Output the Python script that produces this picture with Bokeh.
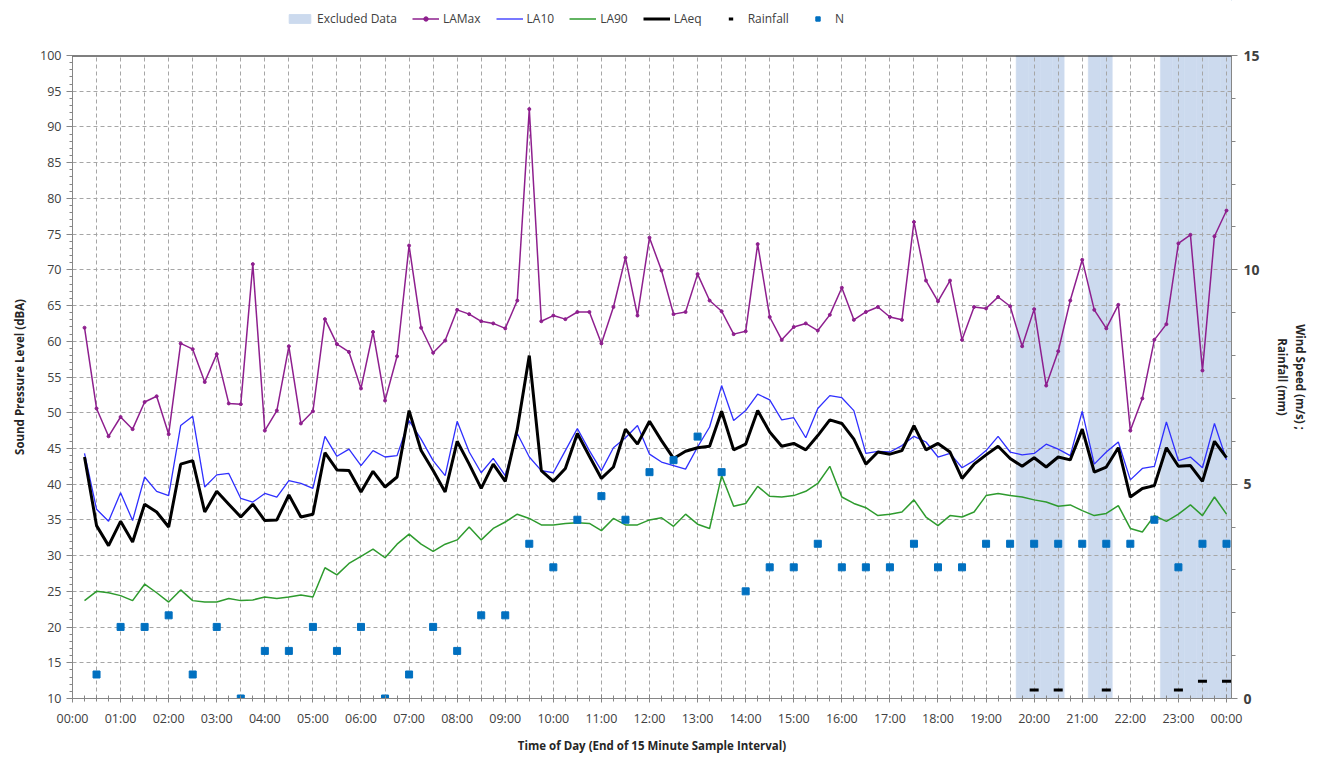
from bokeh.plotting import figure
from bokeh.layouts import column
from bokeh.models import Range1d, LinearAxis, FixedTicker, Legend, LegendItem, Span
from bokeh.embed import file_html
from bokeh.resources import INLINE

# ---------------- data ----------------
lamax = [61.9, 50.6, 46.7, 49.4, 47.7, 51.5, 52.3, 47.0, 59.7, 58.9, 54.3, 58.2,
         51.3, 51.2, 70.8, 47.5, 50.3, 59.3, 48.5, 50.2, 63.1, 59.6, 58.5, 53.4,
         61.3, 51.7, 57.9, 73.4, 61.9, 58.4, 60.1, 64.4, 63.8, 62.8, 62.5, 61.8,
         65.7, 92.5, 62.8, 63.6, 63.1, 64.1, 64.1, 59.7, 64.8, 71.7, 63.6, 74.5,
         69.9, 63.8, 64.1, 69.4, 65.7, 64.2, 61.0, 61.4, 73.6, 63.4, 60.2, 62.0,
         62.5, 61.5, 63.7, 67.5, 63.0, 64.1, 64.8, 63.4, 63.0, 76.7, 68.5, 65.6,
         68.5, 60.2, 64.8, 64.6, 66.2, 64.9, 59.3, 64.5, 53.8, 58.6, 65.7, 71.4,
         64.4, 61.8, 65.1, 47.5, 52.0, 60.2, 62.4, 73.7, 74.9, 55.9, 74.7, 78.3]
la10 = [44.3, 36.5, 34.8, 38.8, 34.9, 41.0, 39.0, 38.4, 48.2, 49.5, 39.6, 41.3,
        41.5, 38.0, 37.5, 38.7, 38.2, 40.5, 40.1, 39.4, 46.7, 43.9, 44.9, 42.6,
        44.7, 43.8, 44.0, 48.9, 46.3, 43.3, 41.2, 48.8, 44.5, 41.6, 43.6, 41.2,
        47.1, 43.8, 41.9, 41.6, 44.7, 47.8, 44.7, 41.9, 45.1, 46.5, 48.2, 44.2,
        43.1, 42.6, 42.1, 45.2, 48.0, 53.8, 48.9, 50.3, 52.6, 51.8, 49.0, 49.3,
        46.5, 50.6, 52.4, 52.1, 50.3, 44.3, 44.6, 44.5, 45.4, 46.7, 45.9, 43.8,
        44.3, 42.3, 43.3, 44.7, 46.7, 44.5, 44.1, 44.3, 45.6, 44.9, 44.0, 50.2,
        42.8, 44.5, 45.9, 40.6, 42.2, 42.5, 48.7, 43.3, 43.8, 42.3, 48.5, 43.4]
la90 = [23.7, 25.0, 24.8, 24.4, 23.7, 26.0, 24.8, 23.5, 25.2, 23.7, 23.5, 23.5,
        24.0, 23.7, 23.8, 24.2, 24.0, 24.2, 24.5, 24.2, 28.3, 27.3, 28.9, 29.9,
        30.9, 29.7, 31.6, 33.0, 31.6, 30.6, 31.6, 32.2, 34.0, 32.2, 33.8, 34.7,
        35.8, 35.2, 34.3, 34.3, 34.5, 34.6, 34.5, 33.5, 35.2, 34.3, 34.3, 35.0,
        35.3, 34.1, 35.8, 34.4, 33.8, 41.2, 36.9, 37.3, 39.7, 38.3, 38.2, 38.4,
        39.0, 40.1, 42.5, 38.2, 37.3, 36.7, 35.6, 35.8, 36.1, 37.8, 35.4, 34.2,
        35.6, 35.4, 36.1, 38.4, 38.7, 38.4, 38.2, 37.8, 37.5, 36.9, 37.1, 36.3,
        35.6, 35.9, 37.0, 33.8, 33.3, 35.6, 34.8, 35.8, 37.1, 35.6, 38.2, 35.8]
laeq = [43.8, 34.2, 31.4, 34.8, 31.9, 37.2, 36.1, 34.0, 42.8, 43.3, 36.1, 39.0,
        37.2, 35.4, 37.2, 34.9, 35.0, 38.5, 35.4, 35.8, 44.4, 42.0, 41.9, 38.9,
        41.8, 39.6, 41.0, 50.3, 44.7, 41.9, 38.9, 46.0, 42.8, 39.4, 42.8, 40.4,
        47.7, 58.0, 41.9, 40.4, 42.2, 47.1, 43.9, 40.8, 42.4, 47.7, 45.6, 48.8,
        46.1, 43.6, 44.6, 45.1, 45.3, 50.2, 44.8, 45.6, 50.3, 47.3, 45.3, 45.7,
        44.8, 46.8, 49.0, 48.5, 46.3, 42.8, 44.5, 44.2, 44.7, 48.2, 44.8, 45.7,
        44.5, 40.8, 42.8, 44.1, 45.3, 43.6, 42.5, 43.7, 42.4, 43.8, 43.4, 47.7,
        41.7, 42.4, 45.1, 38.2, 39.4, 39.8, 45.1, 42.5, 42.6, 40.4, 46.0, 43.7]
wind_n = [0.56, 1.67, 1.67, 1.94, 0.56, 1.67, 0.0, 1.11, 1.11, 1.67, 1.11, 1.67,
          0.0, 0.56, 1.67, 1.11, 1.94, 1.94, 3.61, 3.06, 4.17, 4.72, 4.17, 5.28,
          5.56, 6.11, 5.28, 2.50, 3.06, 3.06, 3.61, 3.06, 3.06, 3.06, 3.61, 3.06,
          3.06, 3.61, 3.61, 3.61, 3.61, 3.61, 3.61, 3.61, 4.17, 3.06, 3.61, 3.61]
rain_times = [20.0, 20.5, 21.5, 23.0, 23.5, 24.0]
rain_mm = [0.2, 0.2, 0.2, 0.2, 0.4, 0.4]
excluded_times = [19.75, 20.0, 20.25, 20.5, 21.25, 21.5,
                  22.75, 23.0, 23.25, 23.5, 23.75, 24.0]
hour_labels = ["00:00", "01:00", "02:00", "03:00", "04:00", "05:00", "06:00",
               "07:00", "08:00", "09:00", "10:00", "11:00", "12:00", "13:00",
               "14:00", "15:00", "16:00", "17:00", "18:00", "19:00", "20:00",
               "21:00", "22:00", "23:00", "00:00"]

times = [0.25 * (i + 1) for i in range(len(lamax))]        # end of 15 min interval (h)
wind_times = [0.5 * (i + 1) for i in range(len(wind_n))]   # half-hourly wind samples

FONT = "Open Sans"
TXT = "#404040"
C_EXCL = "#CCDAEE"
C_MAX = "#8E1F8E"
C_10 = "#2F2FFF"
C_90 = "#2E9B2E"
C_N = "#0070C0"

LEG_H = 36

p = figure(width=1321, height=758 - LEG_H, output_backend="svg", toolbar_location=None,
           x_range=Range1d(0, 24.104), y_range=Range1d(10, 100))
p.min_border_left = 72
p.min_border_right = 90
p.min_border_top = 55 - LEG_H
p.min_border_bottom = 60
p.outline_line_color = None
p.background_fill_color = "white"

p.extra_y_ranges = {"wind": Range1d(0, 15)}

# excluded data bars
p.vbar(x=excluded_times, width=0.25, bottom=10, top=100,
       fill_color=C_EXCL, line_color=C_EXCL, line_width=0.5, level="image")

# lines
p.line(times, lamax, line_color=C_MAX, line_width=1.5)
p.scatter(times, lamax, size=3, marker="circle", fill_color=C_MAX, line_color=C_MAX)
p.line(times, la10, line_color=C_10, line_width=1.3)
p.line(times, la90, line_color=C_90, line_width=1.5)
p.line(times, laeq, line_color="black", line_width=3)

p.scatter(rain_times, rain_mm, y_range_name="wind", marker="dash", size=9,
          line_color="black", line_width=3)
p.scatter(wind_times, wind_n, y_range_name="wind", marker="square", size=7,
          fill_color=C_N, line_color=C_N)

# top border line
p.add_layout(Span(location=100, dimension="width", line_color="black", line_width=2))

# grids
p.xgrid.ticker = FixedTicker(ticks=[0.5 * k for k in range(1, 49)])
p.ygrid.ticker = FixedTicker(ticks=list(range(15, 100, 5)))
for g in (p.xgrid, p.ygrid):
    g.grid_line_color = "#A6A6A6"
    g.grid_line_dash = "4 3"
    g.grid_line_width = 1

# x axis
xa = p.xaxis[0]
xa.ticker = FixedTicker(ticks=list(range(25)), minor_ticks=[0.25 * k for k in range(97)])
xa.major_label_overrides = {i: hour_labels[i] for i in range(25)}
xa.axis_label = "Time of Day (End of 15 Minute Sample Interval)"
xa.axis_line_color = "#868686"
xa.major_tick_line_color = "#868686"
xa.minor_tick_line_color = "#868686"
xa.major_tick_in = 4
xa.major_tick_out = 4
xa.minor_tick_in = 3
xa.minor_tick_out = 3
xa.major_label_standoff = 7
xa.axis_label_standoff = 8

# left axis
ya = p.yaxis[0]
ya.ticker = FixedTicker(ticks=list(range(10, 101, 5)), minor_ticks=list(range(10, 101)))
ya.axis_label = "Sound Pressure Level (dBA)"
ya.axis_line_color = "#868686"
ya.major_tick_line_color = "#868686"
ya.minor_tick_line_color = "#868686"
ya.major_tick_in = 0
ya.major_tick_out = 6
ya.minor_tick_in = 0
ya.minor_tick_out = 3
ya.major_label_standoff = 5
ya.axis_label_standoff = 10

# right axis
ra = LinearAxis(y_range_name="wind",
                ticker=FixedTicker(ticks=[0, 5, 10, 15], minor_ticks=list(range(16))),
                axis_label="Wind Speed (m/s) ;\nRainfall (mm)")
ra.axis_line_color = "#868686"
ra.major_tick_line_color = "#868686"
ra.minor_tick_line_color = "#868686"
ra.major_tick_in = 0
ra.major_tick_out = 6
ra.minor_tick_in = 0
ra.minor_tick_out = 4
ra.major_label_standoff = 6
ra.axis_label_standoff = 12
p.add_layout(ra, "right")

for ax in (xa, ya, ra):
    ax.major_label_text_font = FONT
    ax.major_label_text_font_size = "12.5px"
    ax.major_label_text_color = TXT
    ax.axis_label_text_font = FONT
    ax.axis_label_text_font_size = "11.5px"
    ax.axis_label_text_font_style = "bold"
    ax.axis_label_text_color = "#262626"
ra.major_label_text_font_style = "bold"
ra.major_label_text_font_size = "14px"

# ---------------- legend strip (above the chart) ----------------
# legend-only renderers: one sample each, placed outside the strip's visible range
lf = figure(width=1321, height=LEG_H, output_backend="svg", toolbar_location=None,
            x_range=Range1d(0, 1), y_range=Range1d(0, 1),
            x_axis_location=None, y_axis_location=None, min_border=0)
lf.outline_line_color = None
lf.grid.visible = False
off = [5, 6]
r_excl = lf.vbar(x=off, width=0.25, bottom=4, top=off, fill_color=C_EXCL, line_color=C_EXCL)
r_maxl = lf.line(x=off, y=off, line_color=C_MAX, line_width=1.5)
r_maxm = lf.scatter(x=off, y=off, size=3, marker="circle", fill_color=C_MAX, line_color=C_MAX)
r_10 = lf.line(x=off, y=off, line_color=C_10, line_width=1.3)
r_90 = lf.line(x=off, y=off, line_color=C_90, line_width=1.5)
r_eq = lf.line(x=off, y=off, line_color="black", line_width=3)
r_rain = lf.scatter(x=off, y=off, marker="dash", size=8, line_color="black", line_width=3)
r_n = lf.scatter(x=off, y=off, marker="square", size=5, fill_color=C_N, line_color=C_N)

legend = Legend(items=[
    LegendItem(label="Excluded Data", renderers=[r_excl]),
    LegendItem(label="LAMax", renderers=[r_maxl, r_maxm]),
    LegendItem(label="LA10", renderers=[r_10]),
    LegendItem(label="LA90", renderers=[r_90]),
    LegendItem(label="LAeq", renderers=[r_eq]),
    LegendItem(label="Rainfall", renderers=[r_rain]),
    LegendItem(label="N", renderers=[r_n]),
], orientation="horizontal", location=(214, 9))
legend.border_line_color = None
legend.background_fill_alpha = 0
legend.label_text_font = FONT
legend.label_text_font_size = "12px"
legend.label_text_color = TXT
legend.glyph_width = 27
legend.glyph_height = 11
legend.label_standoff = 4
legend.spacing = 15
legend.padding = 2
legend.margin = 0
lf.add_layout(legend, "center")

layout = column(lf, p, spacing=0)
open("out.html", "w").write(file_html(layout, INLINE))
